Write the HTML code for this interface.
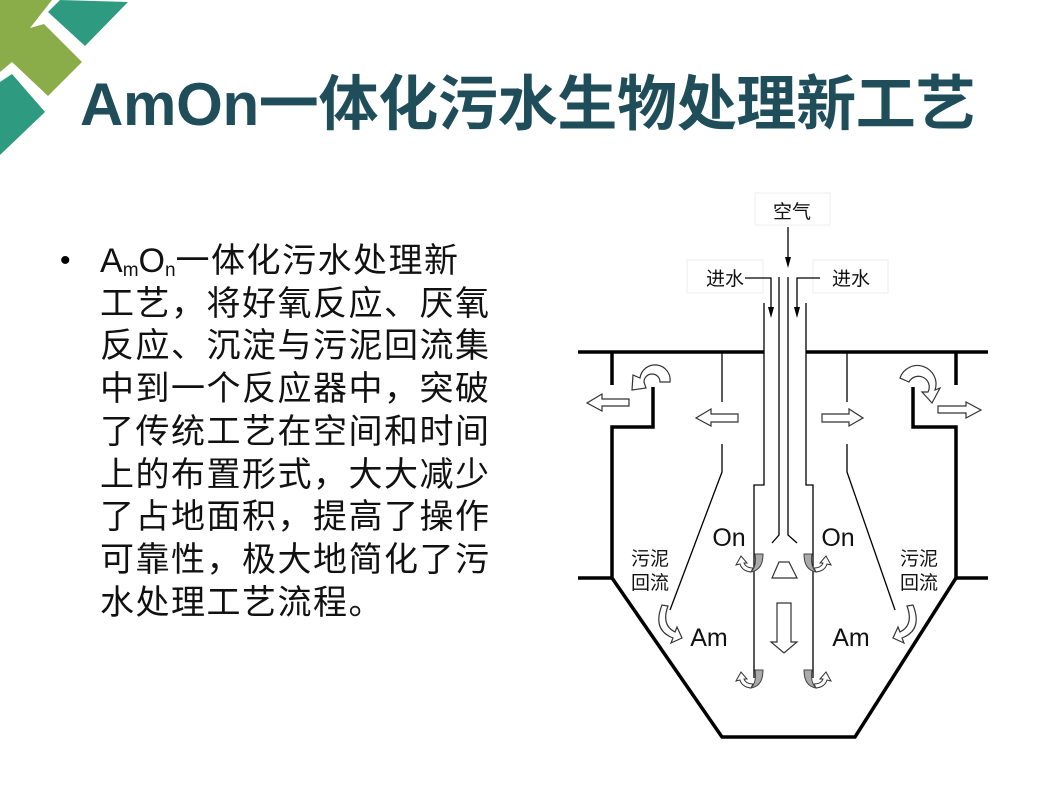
<!DOCTYPE html>
<html><head><meta charset="utf-8"><style>
html,body{margin:0;padding:0;background:#fff;}
body{width:1060px;height:792px;position:relative;overflow:hidden;font-family:"Liberation Sans","Noto Sans CJK SC",sans-serif;}
.title{position:absolute;left:80px;top:56px;font-size:60px;font-weight:bold;color:#1f4e5a;white-space:nowrap;letter-spacing:-0.3px;font-family:"Liberation Sans","Noto Sans CJK SC",sans-serif;}
.body{position:absolute;left:100px;top:240px;font-size:34px;line-height:42.7px;color:#111;white-space:nowrap;letter-spacing:1.5px;}
.bul{position:absolute;left:60px;top:240px;font-size:30px;line-height:42.7px;}
.lat{letter-spacing:0;}
sub{font-size:19px;vertical-align:-4px;line-height:0;letter-spacing:0;}
</style></head><body>
<svg width="1060" height="792" style="position:absolute;left:0;top:0">
<polygon points="0,0 52,0 30,28 44,24 82,62 48,96 12,62 0,72" fill="#8aad4a"/>
<polygon points="48,12 60,0 128,2 85,46" fill="#2e9a80"/>
<polygon points="0,82 12,74 45,112 0,155" fill="#2e9a80"/>
<g stroke="#000" fill="none">
<rect x="755" y="193" width="75" height="32" stroke="#eee"/>
<rect x="687" y="260" width="76" height="33" stroke="#eee"/>
<rect x="813" y="260" width="75" height="33" stroke="#eee"/>
<line x1="788" y1="227" x2="788" y2="260" stroke-width="1.3"/>
<polyline points="745,278 771,278 771,310" stroke-width="1.3"/>
<polyline points="820,278 797,278 797,310" stroke-width="1.3"/>
<polyline points="764,303 764,485 754,485 754,678" stroke-width="1.3"/>
<polyline points="806,303 806,485 813,485 813,678" stroke-width="1.3"/>
<polyline points="779,277 779,535 772,543" stroke-width="1.3"/>
<polyline points="788,277 788,535 797,543" stroke-width="1.3"/>
<g stroke-width="3.5">
<line x1="578" y1="352" x2="764" y2="352"/>
<line x1="806" y1="352" x2="988" y2="352"/>
<line x1="612" y1="352" x2="612" y2="385"/>
<polyline points="653,387 653,427 612,427 612,578 722,737 855,737 956,578 956,427 913,427 913,387"/>
<line x1="956" y1="352" x2="956" y2="385"/>
<line x1="578" y1="578" x2="612" y2="578"/>
<line x1="956" y1="578" x2="988" y2="578"/>
</g>
<line x1="722" y1="352" x2="722" y2="402" stroke-width="1.3"/>
<polyline points="722,444 722,472 670,610" stroke-width="1.3"/>
<line x1="847" y1="352" x2="847" y2="402" stroke-width="1.3"/>
<polyline points="847,444 847,472 895,610" stroke-width="1.3"/>
</g>
<polygon points="768,307 774,307 771,318" fill="#000"/>
<polygon points="794,307 800,307 797,318" fill="#000"/>
<polygon points="785,257 791,257 788,268" fill="#000"/>
<g fill="#fff" stroke="#333" stroke-width="1.2">
<polygon points="629,399 602,399 602,394 587,403 602,411 602,406 629,406"/>
<polygon points="738,414 711,414 711,409 696,418 711,426 711,422 738,422"/>
<polygon points="822,414 849,414 849,409 863,418 849,426 849,422 822,422"/>
<polygon points="938,406 966,406 966,402 981,410 966,418 966,413 938,413"/>
<polygon points="777,603 791,603 791,642 797,642 784,653 771,642 777,642"/>
<polygon points="779,562 789,562 797,578 772,578"/>
<path d="M670,382 A12,12 0 0 0 640,378 L633,375 L632,390 L646,388 L644,382 A7,7 0 0 1 660,382 Z"/>
<path d="M900,378 A12,12 0 0 1 935,390 L940,388 L932,403 L922,392 L928,392 A8,8 0 0 0 909,382 Z"/>
<path d="M662,605 Q652,630 673,638 L671,643 L682,638 L677,627 L675,632 Q661,625 668,606 Z"/>
<path d="M913,605 Q923,630 902,638 L904,643 L893,638 L898,627 L900,632 Q914,625 907,606 Z"/>
</g>
<defs>
<g id="u">
<path d="M0,0 Q-9,-1 -11,-8 L-15,-7 L-10,-16 L-4,-9 L-7,-9 Q-5,-4 2,-4 Z" fill="#fff" stroke="#333" stroke-width="1"/>
<path d="M4,-18 L12,-18 Q12,-2 0,0 Q6,-6 4,-18 Z" fill="#aaa" stroke="#444" stroke-width="1"/>
</g>
</defs>
<use href="#u" transform="translate(751,572)"/>
<use href="#u" transform="translate(816,572) scale(-1,1)"/>
<use href="#u" transform="translate(751,688)"/>
<use href="#u" transform="translate(816,688) scale(-1,1)"/>
<g font-family="Liberation Sans, Noto Sans CJK SC, sans-serif" fill="#111">
<text x="792" y="218" font-size="19" text-anchor="middle">空气</text>
<text x="725" y="285" font-size="19" text-anchor="middle">进水</text>
<text x="851" y="285" font-size="19" text-anchor="middle">进水</text>
<text x="729" y="546" font-size="25" text-anchor="middle">On</text>
<text x="838" y="546" font-size="25" text-anchor="middle">On</text>
<text x="709" y="646" font-size="25" text-anchor="middle">Am</text>
<text x="851" y="646" font-size="25" text-anchor="middle">Am</text>
<text x="650" y="565" font-size="19" text-anchor="middle">污泥</text>
<text x="650" y="589" font-size="19" text-anchor="middle">回流</text>
<text x="919" y="565" font-size="19" text-anchor="middle">污泥</text>
<text x="919" y="589" font-size="19" text-anchor="middle">回流</text>
</g>
</svg>
<div class="title">AmOn一体化污水生物处理新工艺</div>
<div class="bul">•</div>
<div class="body"><span class="lat">A<sub>m</sub>O<sub>n</sub></span>一体化污水处理新<br>工艺，将好氧反应、厌氧<br>反应、沉淀与污泥回流集<br>中到一个反应器中，突破<br>了传统工艺在空间和时间<br>上的布置形式，大大减少<br>了占地面积，提高了操作<br>可靠性，极大地简化了污<br>水处理工艺流程。</div>
</body></html>
